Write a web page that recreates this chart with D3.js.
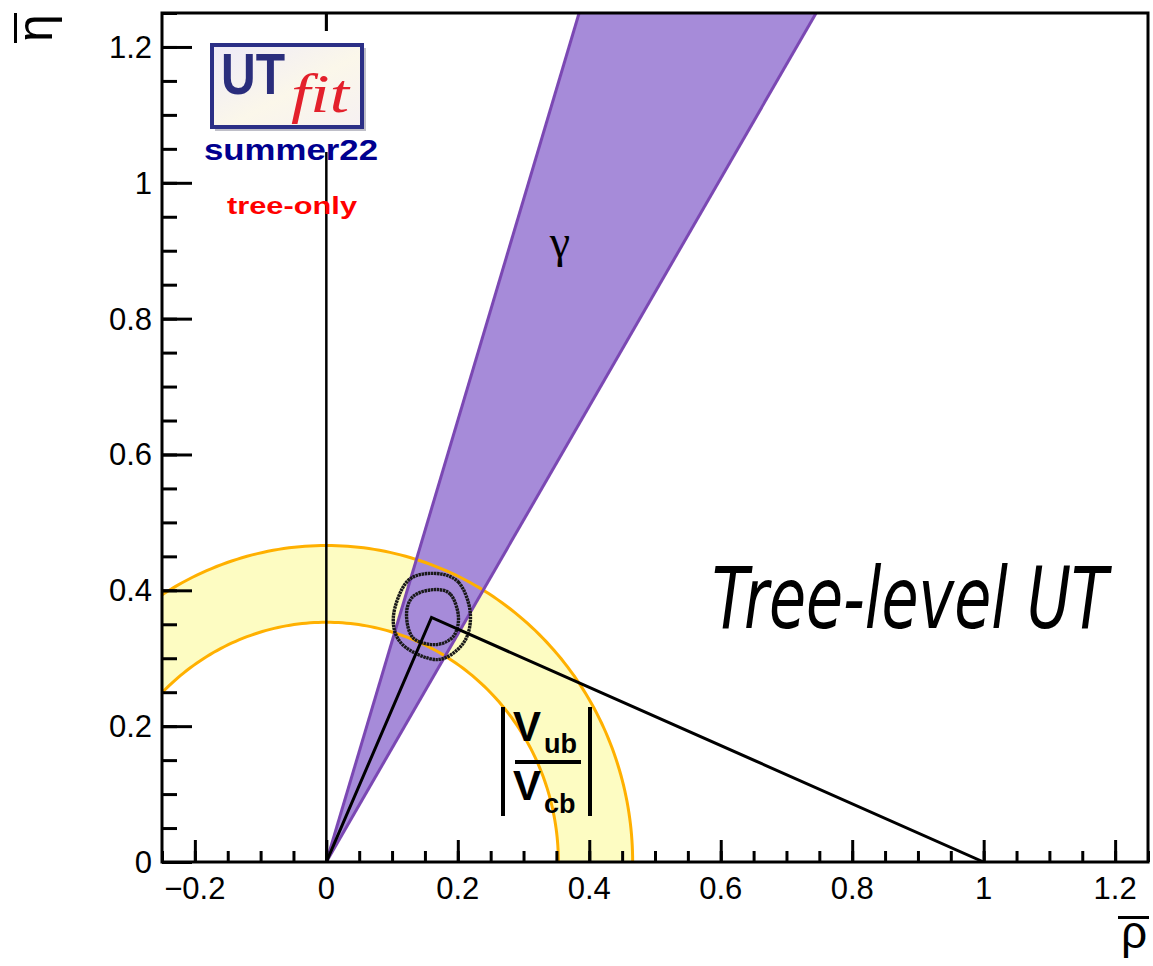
<!DOCTYPE html>
<html>
<head>
<meta charset="utf-8">
<script src="https://cdn.jsdelivr.net/npm/d3@7"></script>
<style>
  body { margin: 0; background: #fff; }
  text { font-family: "Liberation Sans", Arial, sans-serif; }
</style>
</head>
<body>
<div id="chart"></div>
<script>
// axis ticks
const xMajor = [-0.2, 0, 0.2, 0.4, 0.6, 0.8, 1, 1.2];
const yMajor = [0, 0.2, 0.4, 0.6, 0.8, 1, 1.2];
const xLabels = ["\u22120.2", "0", "0.2", "0.4", "0.6", "0.8", "1", "1.2"];
const yLabels = ["0", "0.2", "0.4", "0.6", "0.8", "1", "1.2"];
const xMinor = d3.range(-25, 126, 5).map(v => v / 100);
const yMinor = d3.range(0, 126, 5).map(v => v / 100);

// constraints
const vubRadii = [0.353, 0.466];       // |Vub/Vcb| annulus, inner / outer radius
const gammaDeg = [59.2, 72.9];         // gamma wedge, lower / upper angle
const apex = [0.160, 0.360];           // fitted (rho, eta)
const etaLineTop = 1.25;

// 68% / 95% probability contours around the apex
const ringOuter = [[0.163, 0.425], [0.201, 0.412], [0.219, 0.367], [0.209, 0.323],
                   [0.169, 0.298], [0.116, 0.320], [0.102, 0.361], [0.123, 0.413]];
const ringInner = [[0.163, 0.401], [0.189, 0.394], [0.201, 0.361], [0.193, 0.332],
                   [0.166, 0.320], [0.132, 0.330], [0.122, 0.364], [0.132, 0.391]];

const W = 1153, H = 966;
const svg = d3.select("#chart").append("svg").attr("width", W).attr("height", H);

const x = d3.scaleLinear().domain([-0.25, 1.25]).range([162, 1148]);
const y = d3.scaleLinear().domain([0, 1.25]).range([862, 13]);

svg.append("clipPath").attr("id", "plotclip")
  .append("rect")
  .attr("x", x(-0.25)).attr("y", y(1.25))
  .attr("width", x(1.25) - x(-0.25)).attr("height", y(0) - y(1.25));

const plot = svg.append("g").attr("clip-path", "url(#plotclip)");

// |Vub/Vcb| band
const angles = d3.range(0, 181, 1).map(a => a * Math.PI / 180);
const outerPts = angles.map(a => [vubRadii[1] * Math.cos(a), vubRadii[1] * Math.sin(a)]);
const innerPts = angles.map(a => [vubRadii[0] * Math.cos(a), vubRadii[0] * Math.sin(a)]);
const lineGen = d3.line().x(d => x(d[0])).y(d => y(d[1]));

plot.append("path")
  .attr("d", lineGen(outerPts.concat(innerPts.slice().reverse())) + "Z")
  .attr("fill", "#fdfcc2");

// gamma band
const edgeTop = deg => [etaLineTop / Math.tan(deg * Math.PI / 180), etaLineTop];
const gLo = edgeTop(gammaDeg[0]), gHi = edgeTop(gammaDeg[1]);
plot.append("path")
  .attr("d", lineGen([[0, 0], gHi, gLo]) + "Z")
  .attr("fill", "#a68bd9");

// band borders
[outerPts, innerPts].forEach(pts => {
  plot.append("path").attr("d", lineGen(pts))
    .attr("fill", "none").attr("stroke", "#ffb000").attr("stroke-width", 3);
});
[gLo, gHi].forEach(p => {
  plot.append("path").attr("d", lineGen([[0, 0], p]))
    .attr("fill", "none").attr("stroke", "#7b48b3").attr("stroke-width", 3);
});

// vertical rho = 0 line
plot.append("path").attr("d", lineGen([[0, 0], [0, etaLineTop]]))
  .attr("stroke", "#000").attr("stroke-width", 2.5);

// contours
const ringGen = d3.line().x(d => x(d[0])).y(d => y(d[1])).curve(d3.curveCardinalClosed);
[ringOuter, ringInner].forEach(r => {
  plot.append("path").attr("d", ringGen(r))
    .attr("fill", "none").attr("stroke", "#1a1a1a").attr("stroke-width", 3.4)
    .attr("stroke-dasharray", "2.5,0.6");
});

// unitarity triangle
plot.append("path").attr("d", lineGen([[0, 0], apex, [1, 0]]))
  .attr("fill", "none").attr("stroke", "#000").attr("stroke-width", 3);

// frame
svg.append("rect")
  .attr("x", x(-0.25)).attr("y", y(1.25))
  .attr("width", x(1.25) - x(-0.25)).attr("height", y(0) - y(1.25))
  .attr("fill", "none").attr("stroke", "#000").attr("stroke-width", 3);

// axes
const xAxis = svg.append("g").attr("transform", `translate(0,${y(0)})`);
xAxis.call(d3.axisTop(x).tickValues(xMinor).tickSize(11).tickFormat(""));
xAxis.call(g => g.append("g").call(d3.axisTop(x).tickValues(xMajor).tickSize(22).tickFormat("")));
xAxis.selectAll("path.domain").remove();
xAxis.selectAll("line").attr("stroke", "#000").attr("stroke-width", 3);
xAxis.selectAll(".xlab").data(xMajor).join("text")
  .attr("class", "xlab")
  .attr("x", d => x(d)).attr("y", 37)
  .attr("fill", "#000")
  .style("font-family", "'Liberation Sans', Arial, sans-serif")
  .attr("text-anchor", "middle").attr("font-size", 31)
  .text((d, i) => xLabels[i]);

const yAxis = svg.append("g").attr("transform", `translate(${x(-0.25)},0)`);
yAxis.call(d3.axisRight(y).tickValues(yMinor).tickSize(15).tickFormat(""));
yAxis.call(g => g.append("g").call(d3.axisRight(y).tickValues(yMajor).tickSize(30).tickFormat("")));
yAxis.selectAll("path.domain").remove();
yAxis.selectAll("line").attr("stroke", "#000").attr("stroke-width", 3);
yAxis.selectAll(".ylab").data(yMajor).join("text")
  .attr("class", "ylab")
  .attr("x", -10).attr("y", d => y(d) + 11)
  .attr("fill", "#000")
  .style("font-family", "'Liberation Sans', Arial, sans-serif")
  .attr("text-anchor", "end").attr("font-size", 31)
  .text((d, i) => yLabels[i]);

// top tick at rho = 0
svg.append("line").attr("x1", x(0)).attr("x2", x(0))
  .attr("y1", y(1.25)).attr("y2", y(1.25) + 18)
  .attr("stroke", "#000").attr("stroke-width", 3);

// axis titles
svg.append("text").attr("x", 1134).attr("y", 948)
  .attr("text-anchor", "middle").attr("font-size", 46).text("\u03c1");
svg.append("rect").attr("x", 1118).attr("y", 916).attr("width", 31).attr("height", 3).attr("fill", "#000");
svg.append("text").attr("transform", "translate(52,28) rotate(-90)")
  .attr("text-anchor", "middle").attr("font-size", 50).text("\u03b7");
svg.append("rect").attr("x", 14).attr("y", 13).attr("width", 3).attr("height", 30).attr("fill", "#000");

// logo pave (white background hides the rho = 0 line)
const logo = svg.append("g");
logo.append("rect").attr("x", 196).attr("y", 31).attr("width", 186).attr("height", 121).attr("fill", "#fff");
const grad = svg.append("defs").append("linearGradient").attr("id", "logobg")
  .attr("x1", 0).attr("y1", 0).attr("x2", 1).attr("y2", 1);
grad.append("stop").attr("offset", "0%").attr("stop-color", "#eeeaf8");
grad.append("stop").attr("offset", "55%").attr("stop-color", "#fbf7ea");
grad.append("stop").attr("offset", "100%").attr("stop-color", "#f6f0f2");
logo.append("rect").attr("x", 215).attr("y", 48).attr("width", 151).attr("height", 83)
  .attr("fill", "#bfbfc8");
logo.append("rect").attr("x", 212).attr("y", 45).attr("width", 150).attr("height", 82)
  .attr("fill", "url(#logobg)").attr("stroke", "#2b2f86").attr("stroke-width", 4);
logo.append("text").attr("x", 221).attr("y", 94)
  .attr("font-size", 58).attr("font-weight", "bold").attr("fill", "#2a2d7c")
  .attr("textLength", 64).attr("lengthAdjust", "spacingAndGlyphs").text("UT");
logo.append("text").attr("x", 291).attr("y", 112)
  .style("font-family", "'Liberation Serif', serif")
  .attr("font-size", 54).attr("font-style", "italic").attr("fill", "#e3202b")
  .attr("textLength", 58).attr("lengthAdjust", "spacingAndGlyphs").text("fit");

svg.append("text").attr("x", 204).attr("y", 160)
  .attr("font-size", 30).attr("font-weight", "bold").attr("fill", "#00008f")
  .attr("textLength", 174).attr("lengthAdjust", "spacingAndGlyphs").text("summer22");
svg.append("text").attr("x", 227).attr("y", 214)
  .attr("font-size", 24).attr("font-weight", "bold").attr("fill", "#ff0000")
  .attr("textLength", 130).attr("lengthAdjust", "spacingAndGlyphs").text("tree-only");

// gamma label
svg.append("text").attr("x", 560).attr("y", 257)
  .attr("text-anchor", "middle").style("font-family", "'Liberation Serif', serif")
  .attr("font-size", 46).text("\u03b3");

// |Vub/Vcb| label
const vl = svg.append("g");
vl.append("rect").attr("x", 501).attr("y", 707).attr("width", 4).attr("height", 109).attr("fill", "#000");
vl.append("rect").attr("x", 588).attr("y", 707).attr("width", 4).attr("height", 109).attr("fill", "#000");
vl.append("rect").attr("x", 515).attr("y", 760).attr("width", 66).attr("height", 4).attr("fill", "#000");
vl.append("text").attr("x", 513).attr("y", 741).attr("font-size", 42).attr("font-weight", "bold").text("V");
vl.append("text").attr("x", 544).attr("y", 753).attr("font-size", 27).attr("font-weight", "bold").text("ub");
vl.append("text").attr("x", 513).attr("y", 800).attr("font-size", 42).attr("font-weight", "bold").text("V");
vl.append("text").attr("x", 544).attr("y", 813).attr("font-size", 27).attr("font-weight", "bold").text("cb");

// big label
svg.append("text").attr("x", 712).attr("y", 628)
  .attr("font-size", 86).attr("font-style", "italic")
  .style("font-family", "'DejaVu Sans', sans-serif")
  .attr("textLength", 396).attr("lengthAdjust", "spacingAndGlyphs").text("Tree-level UT");
</script>
</body>
</html>
